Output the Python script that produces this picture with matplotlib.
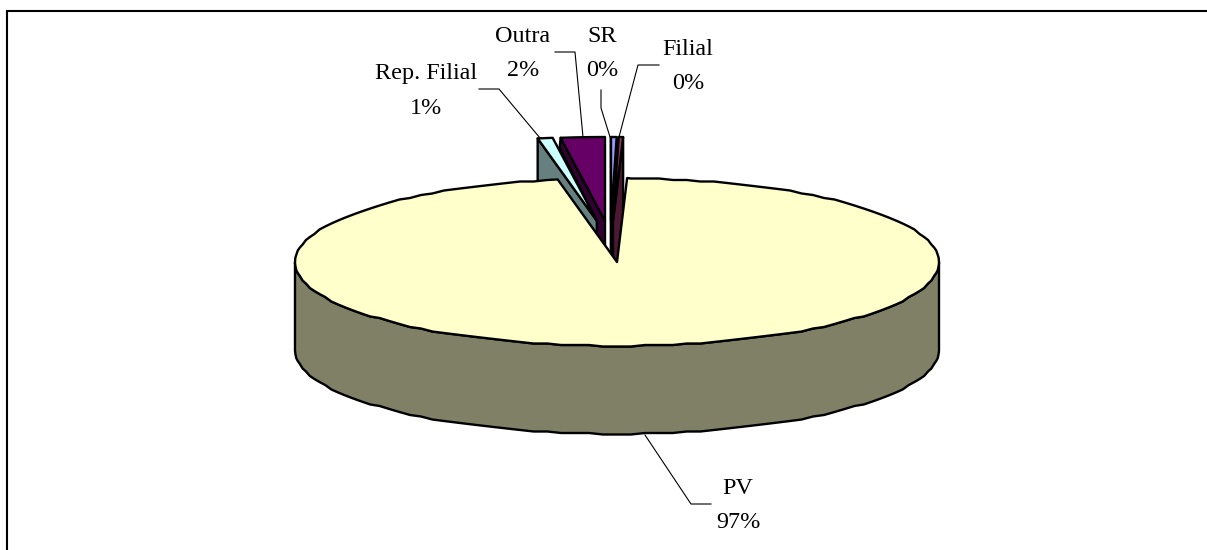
import numpy as np
import matplotlib
matplotlib.use("Agg")
import matplotlib.pyplot as plt
from matplotlib.patches import Polygon

# --- data ---
labels = ["PV", "Rep. Filial", "Outra", "SR", "Filial"]
values = [96.55, 0.75, 2.20, 0.28, 0.22]
shown = ["97%", "1%", "2%", "0%", "0%"]

# --- style ---
top_colors = ["#FFFFCC", "#CCFFFF", "#660066", "#9999FF", "#993366"]
side_colors = ["#808066", "#668080", "#330033", "#4C4C80", "#4C1933"]
W, H = 1207, 550
CX, CY, RX, RY, DEPTH = 617, 262, 322, 84, 88
START = 1.8
GRID = 1.5  # the source outline is slightly snapped to a coarse grid
OFFS = [(0, 0), (-20, -41), (-12, -41), (-6, -41), (-4, -41)]
LABEL_POS = [(738, 505.5), (426, 91), (523, 53.5), (602, 53.5), (688, 66.5)]
LEADERS = [[(645, 435), (691, 504), (711, 504)],
           [(479, 89), (499, 89), (540, 138)],
           [(555, 52), (575, 52), (583, 137)],
           [(601, 90), (601, 108), (610, 137)],
           [(659, 65), (638, 65), (619, 137)]]

plt.rcParams["font.family"] = ["Liberation Serif", "DejaVu Serif"]
fig = plt.figure(figsize=(W / 100, H / 100), dpi=100)
ax = fig.add_axes([0, 0, 1, 1])
ax.set_xlim(0, W)
ax.set_ylim(H, 0)
ax.axis("off")
fig.patch.set_facecolor("white")

frac = np.array(values) / sum(values)
ends = START + np.cumsum(np.r_[0, frac]) * 360  # clockwise from the top

def pt(a, off=(0, 0), dz=0):
    r = np.radians(a)
    return np.c_[CX + off[0] + RX * np.sin(r), CY + off[1] - RY * np.cos(r) + dz]

def snapped(a, dz=0):
    p = pt(a)
    p[:, 1] = np.round(p[:, 1] / GRID) * GRID + dz
    return p

def arc(a0, a1, off=(0, 0), step=2.5):
    n = max(2, int(abs(a1 - a0) / step) + 1)
    return pt(np.linspace(a0, a1, n), off)

edge = dict(edgecolor="black", linewidth=1.7, joinstyle="round")

def apex_of(i):
    return np.array([[CX + OFFS[i][0], CY + OFFS[i][1]]])

# exploded slices sit behind the large one
for i in [1, 2, 3, 4]:
    a0, a1 = ends[i], ends[i + 1]
    off = OFFS[i]
    apex = apex_of(i)
    p0 = pt(np.array([a0]), off)
    if i == 2:
        # narrow dark strip beside the neighbouring slice, as in the source
        prev = apex_of(1)
        face = np.vstack([p0, apex, apex + [0, DEPTH], prev + [0, DEPTH], prev, p0 + [-1, 10]])
    else:
        face = np.vstack([p0, p0 + [0, DEPTH], apex + [0, DEPTH], apex])
    ax.add_patch(Polygon(face, closed=True, facecolor=side_colors[i], zorder=2 + i, **edge))
    if i == 4:
        p1 = pt(np.array([a1]), off)
        face = np.vstack([p1, p1 + [0, DEPTH], apex + [0, DEPTH], apex])
        ax.add_patch(Polygon(face, closed=True, facecolor=side_colors[i], zorder=2 + i, **edge))
    ax.add_patch(Polygon(np.vstack([apex, arc(a0, a1, off)]), closed=True,
                         facecolor=top_colors[i], zorder=2 + i, **edge))

# shared angle grid so the rim and the top outline coincide
STEP = 2.5
grid_a = np.arange(np.ceil(ends[0] / STEP) * STEP, ends[1], STEP)

# rim of the large slice, front half only
rim_a = grid_a[(grid_a >= 90) & (grid_a <= 270)]
rim = np.vstack([snapped(rim_a), snapped(rim_a[::-1], dz=DEPTH)])
ax.add_patch(Polygon(rim, closed=True, facecolor=side_colors[0], zorder=10, **edge))
# top of the large slice
top = np.vstack([[[CX, CY]], pt(np.array([ends[0]])), snapped(grid_a), pt(np.array([ends[1]]))])
ax.add_patch(Polygon(top, closed=True, facecolor=top_colors[0], zorder=11, **edge))

for i, name in enumerate(labels):
    x, y = LABEL_POS[i]
    ax.text(x, y, f"{name}\n{shown[i]}", ha="center", va="center", fontsize=17.4,
            color="black", linespacing=1.86, zorder=20)
    ax.plot(*zip(*LEADERS[i]), color="black", lw=0.8, zorder=1)

ax.plot([7, 7, W], [H, 10.5, 10.5], color="black", lw=1.5, zorder=30, solid_joinstyle="miter")
fig.savefig("out.png", dpi=100)
